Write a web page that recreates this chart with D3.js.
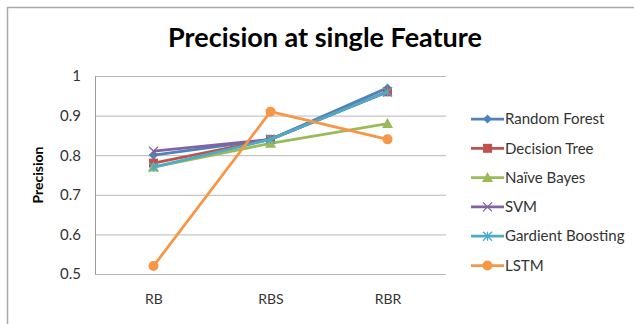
<!DOCTYPE html>
<html>
<head>
<meta charset="utf-8">
<script src="https://cdn.jsdelivr.net/npm/d3@7"></script>
<style>
  body { margin: 0; background: #fff; }
  svg { display: block; }
</style>
</head>
<body>
<div id="chart"></div>
<script>
// data
const categories = ['RB', 'RBS', 'RBR'];
const seriesNames = ['Random Forest', 'Decision Tree', 'Naïve Bayes', 'SVM', 'Gardient Boosting', 'LSTM'];
const randomForest = [0.80, 0.84, 0.97];
const decisionTree = [0.78, 0.84, 0.96];
const naiveBayes = [0.77, 0.83, 0.88];
const svm = [0.81, 0.84, 0.96];
const gradientBoosting = [0.77, 0.84, 0.96];
const lstm = [0.52, 0.91, 0.84];
const yTicks = [0.5, 0.6, 0.7, 0.8, 0.9, 1];

const seriesValues = [randomForest, decisionTree, naiveBayes, svm, gradientBoosting, lstm];
const colors = ['#4F81BD', '#C0504D', '#9BBB59', '#8064A2', '#4BACC6', '#F79646'];
const shapes = ['diamond', 'square', 'triangle', 'x', 'star', 'circle'];

const width = 634, height = 324;
const margin = { top: 76, left: 95, right: 188, bottom: 50 };
const plotW = width - margin.left - margin.right;
const plotH = height - margin.top - margin.bottom;

const svg = d3.select('#chart').append('svg')
    .attr('width', width)
    .attr('height', height)
    .style('font-family', 'Lato, "Open Sans", sans-serif');

// outer frame
svg.append('rect')
    .attr('x', 7.5).attr('y', 7.5)
    .attr('width', 640).attr('height', 330)
    .attr('fill', 'none')
    .attr('stroke', '#aaa')
    .attr('stroke-width', 1.5);

// title
svg.append('text')
    .attr('x', 325)
    .attr('y', 47)
    .attr('text-anchor', 'middle')
    .style('font-size', '27px')
    .style('font-weight', 'bold')
    .style('fill', '#000')
    .text('Precision at single Feature');

const x = d3.scalePoint()
    .domain(categories)
    .range([0, plotW])
    .padding(0.5);

const y = d3.scaleLinear()
    .domain([0.5, 1])
    .range([plotH, 0]);

const g = svg.append('g')
    .attr('transform', `translate(${margin.left}, ${margin.top})`);

// grid lines
g.append('g')
    .call(d3.axisLeft(y).tickValues(yTicks).tickSize(-plotW).tickFormat(''))
    .call(ax => ax.select('.domain').remove())
    .selectAll('line')
    .attr('stroke', '#b8b8b8')
    .attr('stroke-width', 1);

// y axis
const yAxis = g.append('g')
    .call(d3.axisLeft(y).tickValues(yTicks).tickSize(0).tickPadding(14).tickFormat(d3.format('')));
yAxis.select('.domain').attr('stroke', '#999');
yAxis.selectAll('text')
    .style('font-size', '15px')
    .style('font-family', 'Lato, "Open Sans", sans-serif')
    .attr('fill', '#333');

// x axis
const xAxis = g.append('g')
    .attr('transform', `translate(0, ${plotH})`)
    .call(d3.axisBottom(x).tickSize(0).tickPadding(20));
xAxis.select('.domain').remove();
xAxis.selectAll('text')
    .style('font-size', '14px')
    .style('font-family', 'Lato, "Open Sans", sans-serif')
    .attr('fill', '#333');

// y axis title
svg.append('text')
    .attr('transform', `translate(43, ${margin.top + plotH / 2}) rotate(-90)`)
    .attr('text-anchor', 'middle')
    .style('font-size', '14px')
    .style('font-weight', 'bold')
    .text('Precision');

function drawMarker(sel, shape, color) {
    const s = 4.5;
    if (shape === 'diamond') {
        sel.append('path').attr('d', `M0,${-s}L${s},0L0,${s}L${-s},0Z`).attr('fill', color);
    } else if (shape === 'square') {
        sel.append('rect').attr('x', -s).attr('y', -s).attr('width', 2 * s).attr('height', 2 * s).attr('fill', color);
    } else if (shape === 'triangle') {
        sel.append('path').attr('d', `M0,${-s - 1}L${s + 1},${s}L${-s - 1},${s}Z`).attr('fill', color);
    } else if (shape === 'x') {
        sel.append('path').attr('d', `M${-s},${-s}L${s},${s}M${-s},${s}L${s},${-s}`)
            .attr('stroke', color).attr('stroke-width', 1.3).attr('fill', 'none');
    } else if (shape === 'star') {
        sel.append('path').attr('d', `M${-s},${-s}L${s},${s}M${-s},${s}L${s},${-s}M0,${-s}L0,${s}`)
            .attr('stroke', color).attr('stroke-width', 1.3).attr('fill', 'none');
    } else {
        sel.append('circle').attr('r', s + 0.5).attr('fill', color);
    }
}

const line = d3.line()
    .x((d, i) => x(categories[i]))
    .y(d => y(d));

seriesValues.forEach((vals, si) => {
    const sg = g.append('g');
    sg.append('path')
        .datum(vals)
        .attr('d', line)
        .attr('fill', 'none')
        .attr('stroke', colors[si])
        .attr('stroke-width', 2.75);
    vals.forEach((v, i) => {
        const m = sg.append('g').attr('transform', `translate(${x(categories[i])}, ${y(v)})`);
        drawMarker(m, shapes[si], colors[si]);
    });
});

// legend
const legend = svg.append('g')
    .attr('transform', 'translate(471, 119)');
seriesNames.forEach((name, i) => {
    const row = legend.append('g').attr('transform', `translate(0, ${i * 29.3})`);
    row.append('line')
        .attr('x1', 0).attr('x2', 33)
        .attr('stroke', colors[i])
        .attr('stroke-width', 2.75);
    const m = row.append('g').attr('transform', 'translate(16.5, 0)');
    drawMarker(m, shapes[i], colors[i]);
    row.append('text')
        .attr('x', 34)
        .attr('dy', '0.35em')
        .style('font-size', '15px')
        .attr('fill', '#333')
        .text(name);
});
</script>
</body>
</html>
